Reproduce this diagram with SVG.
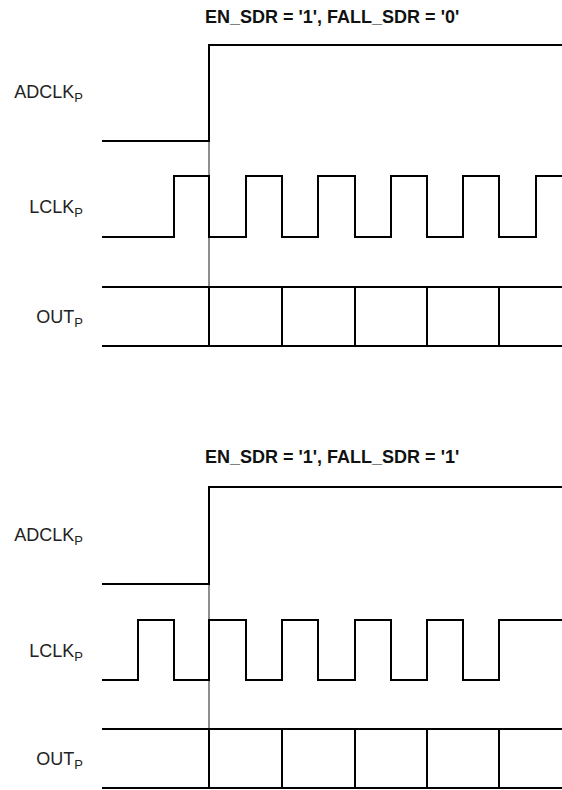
<svg xmlns="http://www.w3.org/2000/svg" width="562" height="790" viewBox="0 0 562 790">
<style>
.t{font-family:"Liberation Sans",Arial,sans-serif;font-size:18px;font-weight:bold;fill:#111}
.l{font-family:"Liberation Sans",Arial,sans-serif;font-size:18px;fill:#222;text-anchor:end}
.s{font-size:13px}
.w{fill:none;stroke:#000;stroke-width:2}
.m{fill:none;stroke:#444;stroke-width:1.2}
</style>
<rect width="562" height="790" fill="#fff"/>
<g id="top">
<text id="title1" class="t" x="205" y="23">EN_SDR = '1', FALL_SDR = '0'</text>
<text id="adclk1" class="l" x="83" y="98">ADCLK<tspan class="s" dy="4">P</tspan></text>
<text id="lclk1" class="l" x="83" y="213">LCLK<tspan class="s" dy="4">P</tspan></text>
<text id="out1" class="l" x="83" y="323">OUT<tspan class="s" dy="4">P</tspan></text>
</g>
<g id="bottom">
<text id="title2" class="t" x="205" y="463">EN_SDR = '1', FALL_SDR = '1'</text>
<text id="adclk2" class="l" x="83" y="541">ADCLK<tspan class="s" dy="4">P</tspan></text>
<text id="lclk2" class="l" x="83" y="657">LCLK<tspan class="s" dy="4">P</tspan></text>
<text id="out2" class="l" x="83" y="765">OUT<tspan class="s" dy="4">P</tspan></text>
</g>
<g id="connectors">
<path class="m" d="M209,141V287"/>
<path class="w" d="M102,141H209V45H562"/>
<path class="w" d="M102,237H174V176H209V237H246V176H282V237H318V176H355V237H391V176H427V237H463V176H499V237H536V176H562"/>
<path class="w" d="M102,287H562M102,346H562M209,287V346M282,287V346M355,287V346M427,287V346M499,287V346"/>
<path class="m" d="M209,584V729"/>
<path class="w" d="M102,584H209V487H562"/>
<path class="w" d="M102,680H138V620H174V680H209V620H246V680H282V620H318V680H355V620H391V680H427V620H463V680H499V620H562"/>
<path class="w" d="M102,729H562M102,788H562M209,729V788M282,729V788M355,729V788M427,729V788M499,729V788"/>
</g>
</svg>
